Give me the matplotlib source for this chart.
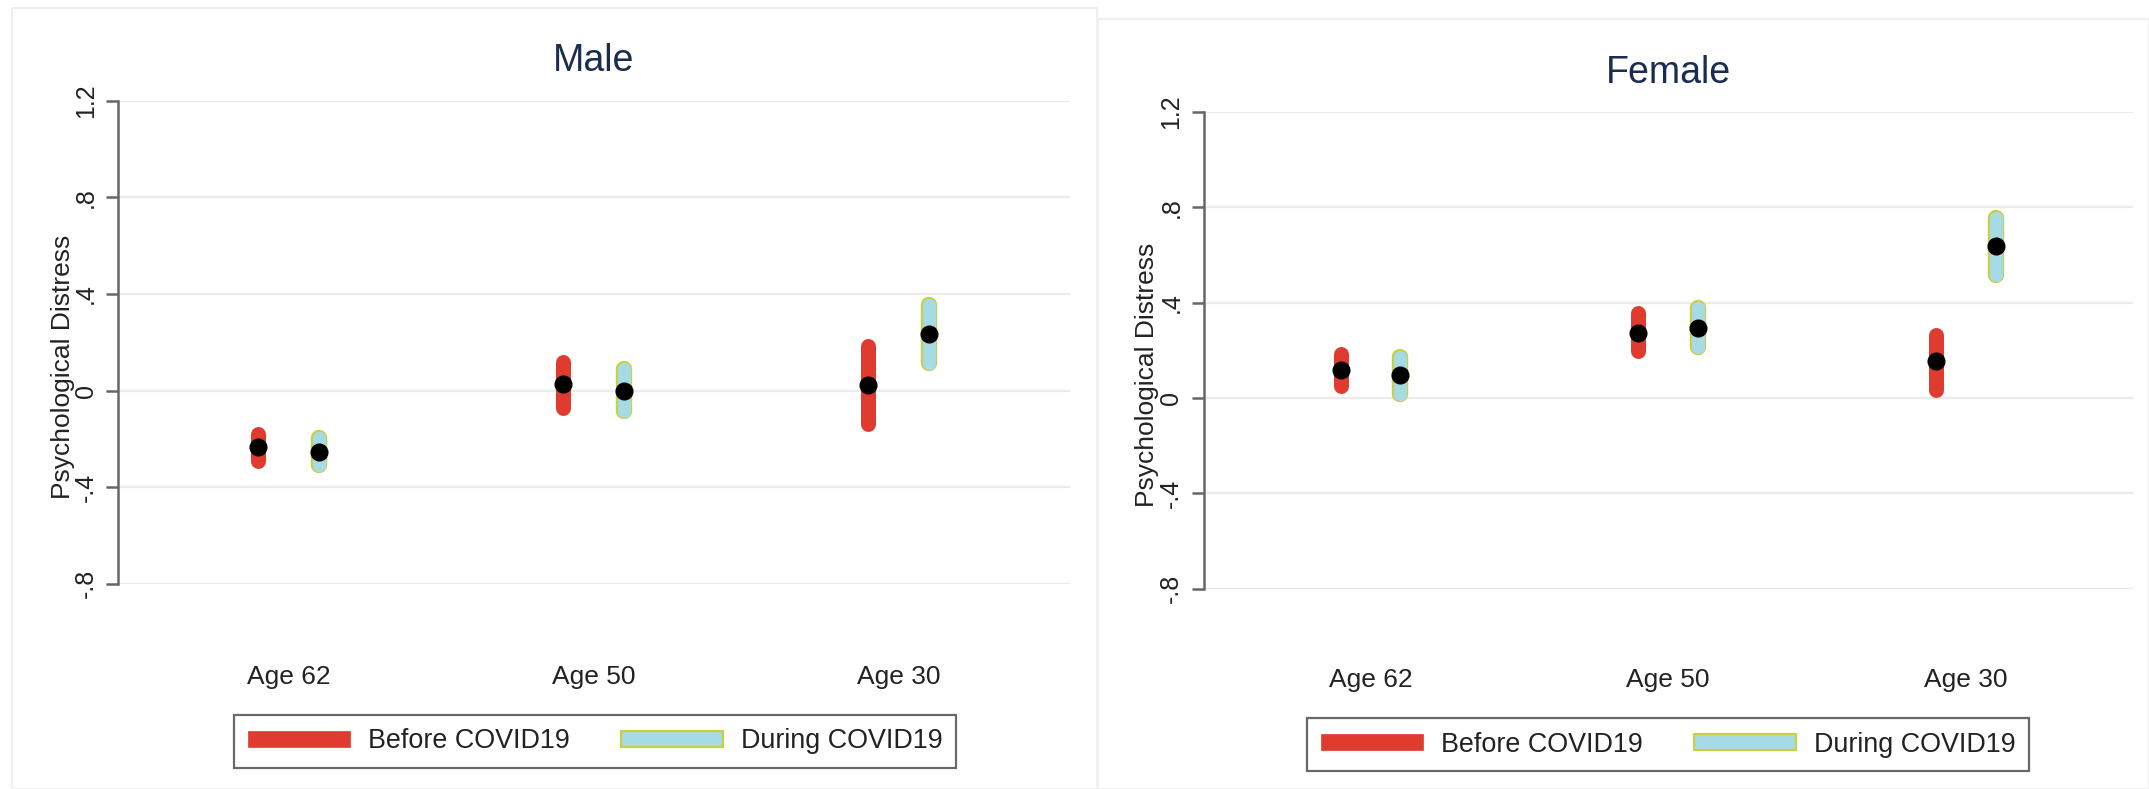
import matplotlib
matplotlib.use("Agg")
import matplotlib.pyplot as plt
from matplotlib.patches import Patch, Rectangle

plt.rcParams['font.family'] = ['Liberation Sans', 'DejaVu Sans']

# Data
groups = ["Age 62", "Age 50", "Age 30"]
y_ticks = [-0.8, -0.4, 0, 0.4, 0.8, 1.2]
y_tick_labels = ["-.8", "-.4", "0", ".4", ".8", "1.2"]
legend_labels = ["Before COVID19", "During COVID19"]

male_before_mean = [-0.233, 0.027, 0.023]
male_before_lo = [-0.29, -0.071, -0.14]
male_before_hi = [-0.181, 0.117, 0.186]
male_during_mean = [-0.254, 0.0, 0.233]
male_during_lo = [-0.31, -0.086, 0.112]
male_during_hi = [-0.196, 0.09, 0.356]

female_before_mean = [0.118, 0.274, 0.154]
female_before_lo = [0.05, 0.196, 0.033]
female_before_hi = [0.186, 0.357, 0.266]
female_during_mean = [0.095, 0.295, 0.635]
female_during_lo = [0.018, 0.212, 0.516]
female_during_hi = [0.172, 0.378, 0.756]

red = "#e03b2f"
cyan = "#a6dbe6"
edge = "#c8d03c"
title_col = "#1b2d4f"
text_col = "#222222"

fig = plt.figure(figsize=(21.49, 7.89), dpi=100)

# faint panel borders (two exported graphs side by side)
fig.patches.append(Rectangle((12 / 2149, 0), (1097 - 12) / 2149, 1 - 8 / 789,
                             transform=fig.transFigure, fill=False,
                             edgecolor="#f0f0f0", lw=1.5))
fig.patches.append(Rectangle((1098 / 2149, 0), (2149 - 1098) / 2149, 1 - 19 / 789,
                             transform=fig.transFigure, fill=False,
                             edgecolor="#f0f0f0", lw=1.5))


def draw_panel(rect, title, title_y, bmean, blo, bhi, dmean, dlo, dhi, ylab_x, leg_center):
    ax = fig.add_axes(rect)
    ax.set_xlim(0.44, 3.56)
    ax.set_ylim(-0.8, 1.2)
    x = [1, 2, 3]
    off = 0.1
    for i in range(3):
        xb = x[i] - off
        xd = x[i] + off
        ax.plot([xb, xb], [blo[i], bhi[i]], color=red, lw=10.8,
                solid_capstyle="round", zorder=3)
        ax.plot([xd, xd], [dlo[i], dhi[i]], color=edge, lw=11.8,
                solid_capstyle="round", zorder=3)
        ax.plot([xd, xd], [dlo[i], dhi[i]], color=cyan, lw=9.6,
                solid_capstyle="round", zorder=4)
    ax.plot([xi - off for xi in x], bmean, "o", color="black", ms=12, zorder=5, lw=0)
    ax.plot([xi + off for xi in x], dmean, "o", color="black", ms=12, zorder=5, lw=0)

    for t in y_ticks:
        ax.axhline(t, color="#ebebeb", lw=1.6, zorder=1)

    for s in ["top", "right", "bottom"]:
        ax.spines[s].set_visible(False)
    ax.spines["left"].set_color("#666666")
    ax.spines["left"].set_linewidth(1.8)
    ax.set_yticks(y_ticks)
    ax.set_yticklabels(y_tick_labels, rotation=90, va="center", fontsize=18, color=text_col)
    ax.tick_params(axis="y", length=8.5, width=1.8, color="#666666", pad=6)
    ax.set_xticks([])
    for xi, g in zip(x, groups):
        ax.text(xi, -0.192, g, transform=ax.get_xaxis_transform(),
                ha="center", va="center", fontsize=19, color=text_col)
    ax.set_ylabel("Psychological Distress", fontsize=19, color=text_col)
    ax.yaxis.set_label_coords(ylab_x, 0.448)
    ax.set_title(title, fontsize=27, color=title_col, y=title_y)

    handles = [Patch(facecolor=red, edgecolor=red, lw=0.5),
               Patch(facecolor=cyan, edgecolor=edge, lw=1.5)]
    leg = ax.legend(handles, legend_labels, loc="center", bbox_to_anchor=leg_center,
                    bbox_transform=fig.transFigure, ncol=2, fontsize=19.4,
                    handlelength=3.8, handleheight=0.56, handletextpad=0.65,
                    columnspacing=1.9, borderpad=0.5, fancybox=False,
                    frameon=True, borderaxespad=0)
    leg.get_frame().set_edgecolor("#444444")
    leg.get_frame().set_linewidth(1.6)
    for t in leg.get_texts():
        t.set_color(text_col)
    return ax


draw_panel([117.9 / 2149, 1 - 583.8 / 789, (1069.8 - 117.9) / 2149, (583.8 - 100.6) / 789],
           "Male", 1.043,
           male_before_mean, male_before_lo, male_before_hi,
           male_during_mean, male_during_lo, male_during_hi,
           -0.045, (595 / 2149, 1 - 741.5 / 789))

draw_panel([1203.5 / 2149, 1 - 588.8 / 789, (2133 - 1203.5) / 2149, (588.8 - 111.7) / 789],
           "Female", 1.043,
           female_before_mean, female_before_lo, female_before_hi,
           female_during_mean, female_during_lo, female_during_hi,
           -0.048, (1668 / 2149, 1 - 744.5 / 789))

fig.savefig("out.png", dpi=100, facecolor="white")
